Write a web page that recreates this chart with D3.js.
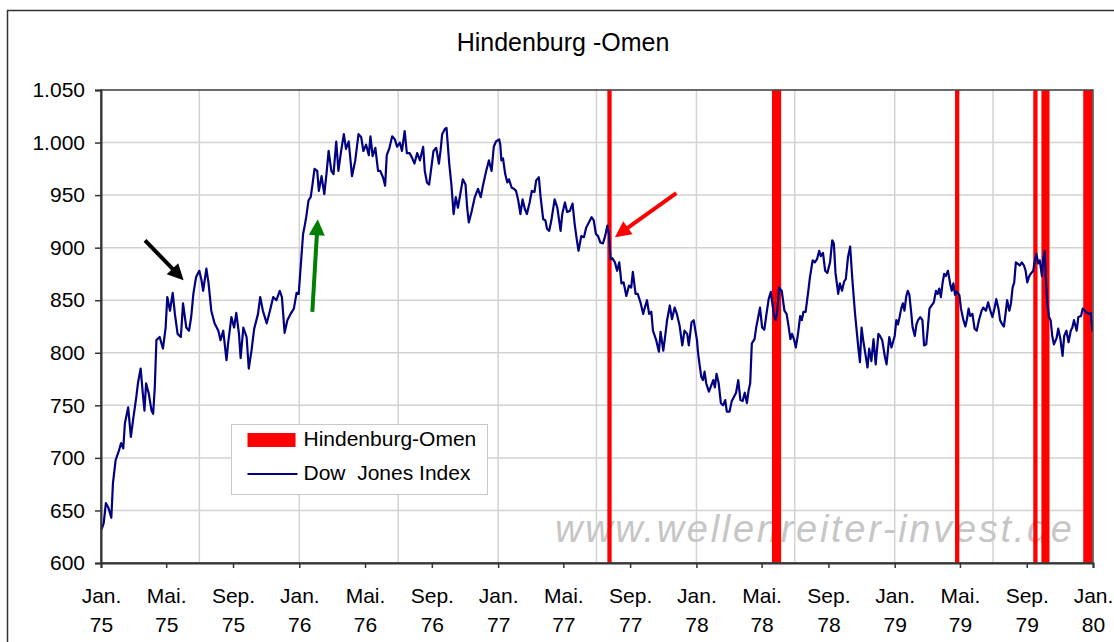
<!DOCTYPE html>
<html>
<head>
<meta charset="utf-8">
<script src="https://cdnjs.cloudflare.com/ajax/libs/d3/7.8.5/d3.min.js"></script>
<style>
  body { margin: 0; background: #fff; }
  text { font-family: 'Liberation Sans', Arial, sans-serif; }
</style>
</head>
<body>
<div id="viz"></div>
<script>
// Dow Jones Index
const dow1975 = [
  ['1975-01-02', 632], ['1975-01-06', 638], ['1975-01-10', 657], ['1975-01-15', 652], ['1975-01-20', 643],
  ['1975-01-23', 676], ['1975-01-28', 698], ['1975-02-03', 707], ['1975-02-07', 714], ['1975-02-11', 709],
  ['1975-02-14', 733], ['1975-02-20', 748], ['1975-02-25', 720], ['1975-03-01', 736], ['1975-03-07', 758],
  ['1975-03-10', 771], ['1975-03-15', 785], ['1975-03-19', 761], ['1975-03-22', 745], ['1975-03-25', 771],
  ['1975-03-30', 761], ['1975-04-04', 745], ['1975-04-07', 742], ['1975-04-10', 767], ['1975-04-13', 812],
  ['1975-04-19', 815], ['1975-04-25', 804], ['1975-04-30', 824], ['1975-05-03', 853], ['1975-05-08', 840],
  ['1975-05-13', 857], ['1975-05-17', 837], ['1975-05-22', 818], ['1975-05-28', 815], ['1975-06-01', 847],
  ['1975-06-07', 824], ['1975-06-12', 821], ['1975-06-16', 834], ['1975-06-20', 856], ['1975-06-25', 872],
  ['1975-07-01', 878], ['1975-07-05', 869], ['1975-07-08', 859], ['1975-07-14', 880], ['1975-07-18', 866],
  ['1975-07-23', 840], ['1975-07-29', 828], ['1975-08-05', 821], ['1975-08-09', 812], ['1975-08-14', 821],
  ['1975-08-20', 793], ['1975-08-23', 809], ['1975-08-29', 834], ['1975-09-03', 824], ['1975-09-07', 838],
  ['1975-09-12', 818], ['1975-09-15', 795], ['1975-09-20', 824], ['1975-09-26', 815], ['1975-09-30', 785],
  ['1975-10-05', 802], ['1975-10-10', 823], ['1975-10-17', 837], ['1975-10-21', 853], ['1975-10-26', 840],
  ['1975-11-02', 828], ['1975-11-08', 840], ['1975-11-14', 853], ['1975-11-20', 850], ['1975-11-26', 859],
  ['1975-11-30', 853], ['1975-12-05', 819], ['1975-12-10', 831], ['1975-12-16', 837], ['1975-12-22', 842],
  ['1975-12-27', 857], ['1975-12-31', 856]
];

const dow1976 = [
  ['1976-01-03', 878], ['1976-01-08', 913], ['1976-01-11', 921], ['1976-01-14', 930], ['1976-01-18', 945],
  ['1976-01-22', 948], ['1976-01-25', 959], ['1976-01-29', 975], ['1976-02-03', 973], ['1976-02-06', 954],
  ['1976-02-11', 968], ['1976-02-16', 951], ['1976-02-20', 970], ['1976-02-24', 992], ['1976-02-29', 973],
  ['1976-03-04', 970], ['1976-03-09', 1001], ['1976-03-13', 973], ['1976-03-18', 992], ['1976-03-23', 1008],
  ['1976-03-27', 994], ['1976-04-01', 1001], ['1976-04-07', 968], ['1976-04-13', 983], ['1976-04-19', 1008],
  ['1976-04-24', 1005], ['1976-04-28', 992], ['1976-05-03', 998], ['1976-05-08', 988], ['1976-05-11', 1006],
  ['1976-05-15', 987], ['1976-05-20', 995], ['1976-05-25', 973], ['1976-05-29', 973], ['1976-06-03', 967],
  ['1976-06-07', 959], ['1976-06-10', 988], ['1976-06-15', 995], ['1976-06-20', 1006], ['1976-06-25', 1003],
  ['1976-06-29', 996], ['1976-07-04', 1000], ['1976-07-08', 992], ['1976-07-13', 1011], ['1976-07-17', 990],
  ['1976-07-22', 990], ['1976-07-27', 985], ['1976-07-31', 980], ['1976-08-05', 990], ['1976-08-10', 983],
  ['1976-08-16', 996], ['1976-08-19', 973], ['1976-08-23', 962], ['1976-08-27', 960], ['1976-08-31', 976],
  ['1976-09-04', 992], ['1976-09-09', 995], ['1976-09-14', 980], ['1976-09-17', 992], ['1976-09-20', 1008],
  ['1976-09-25', 1013], ['1976-09-28', 1014], ['1976-10-03', 980], ['1976-10-07', 960], ['1976-10-11', 932],
  ['1976-10-15', 948], ['1976-10-19', 938], ['1976-10-24', 953], ['1976-10-28', 965], ['1976-11-02', 960],
  ['1976-11-05', 938], ['1976-11-08', 924], ['1976-11-13', 934], ['1976-11-19', 948], ['1976-11-25', 956],
  ['1976-11-30', 948], ['1976-12-04', 959], ['1976-12-10', 973], ['1976-12-15', 983], ['1976-12-20', 973],
  ['1976-12-24', 996], ['1976-12-28', 1001]
];

const dow1977 = [
  ['1977-01-03', 1003], ['1977-01-05', 998], ['1977-01-07', 983], ['1977-01-10', 985], ['1977-01-14', 970],
  ['1977-01-18', 962], ['1977-01-21', 965], ['1977-01-26', 957], ['1977-01-30', 956], ['1977-02-03', 954],
  ['1977-02-07', 945], ['1977-02-11', 932], ['1977-02-15', 946], ['1977-02-19', 937], ['1977-02-23', 932],
  ['1977-02-28', 943], ['1977-03-04', 954], ['1977-03-09', 953], ['1977-03-12', 964], ['1977-03-17', 967],
  ['1977-03-20', 949], ['1977-03-25', 927], ['1977-03-29', 926], ['1977-04-01', 918], ['1977-04-05', 916],
  ['1977-04-09', 926], ['1977-04-15', 946], ['1977-04-20', 938], ['1977-04-26', 916], ['1977-04-29', 932],
  ['1977-05-04', 943], ['1977-05-08', 934], ['1977-05-13', 935], ['1977-05-18', 942], ['1977-05-22', 922],
  ['1977-05-26', 907], ['1977-05-29', 897], ['1977-06-03', 911], ['1977-06-08', 910], ['1977-06-12', 919],
  ['1977-06-17', 924], ['1977-06-22', 929], ['1977-06-26', 926], ['1977-06-30', 913], ['1977-07-04', 911],
  ['1977-07-08', 905], ['1977-07-13', 904], ['1977-07-17', 911], ['1977-07-21', 921], ['1977-07-24', 913],
  ['1977-07-27', 889], ['1977-07-30', 890], ['1977-08-04', 886], ['1977-08-08', 878], ['1977-08-12', 886],
  ['1977-08-16', 866], ['1977-08-20', 867], ['1977-08-25', 854], ['1977-08-30', 864], ['1977-09-03', 862],
  ['1977-09-06', 877], ['1977-09-11', 856], ['1977-09-15', 856], ['1977-09-20', 848], ['1977-09-25', 837],
  ['1977-09-28', 843], ['1977-10-02', 850], ['1977-10-06', 837], ['1977-10-10', 839], ['1977-10-13', 821],
  ['1977-10-19', 812], ['1977-10-24', 801], ['1977-10-27', 820], ['1977-11-01', 802], ['1977-11-05', 818],
  ['1977-11-08', 831], ['1977-11-13', 845], ['1977-11-17', 832], ['1977-11-22', 843], ['1977-11-26', 837],
  ['1977-12-01', 826], ['1977-12-06', 807], ['1977-12-10', 821], ['1977-12-15', 818], ['1977-12-18', 807],
  ['1977-12-23', 829], ['1977-12-27', 831]
];

const dow1978 = [
  ['1978-01-02', 812], ['1978-01-04', 800], ['1978-01-07', 788], ['1978-01-10', 777], ['1978-01-13', 774],
  ['1978-01-16', 782], ['1978-01-19', 771], ['1978-01-24', 763], ['1978-01-27', 767], ['1978-02-01', 774],
  ['1978-02-04', 767], ['1978-02-07', 780], ['1978-02-11', 771], ['1978-02-15', 752], ['1978-02-19', 750],
  ['1978-02-23', 755], ['1978-02-26', 744], ['1978-03-03', 744], ['1978-03-07', 754], ['1978-03-11', 758],
  ['1978-03-15', 762], ['1978-03-19', 774], ['1978-03-23', 755], ['1978-03-27', 754], ['1978-03-31', 762],
  ['1978-04-04', 752], ['1978-04-07', 764], ['1978-04-10', 771], ['1978-04-13', 809], ['1978-04-18', 813],
  ['1978-04-21', 824], ['1978-04-24', 832], ['1978-04-28', 843], ['1978-05-02', 824], ['1978-05-06', 822],
  ['1978-05-10', 837], ['1978-05-14', 851], ['1978-05-18', 858], ['1978-05-21', 846], ['1978-05-24', 835],
  ['1978-05-27', 831], ['1978-05-30', 840], ['1978-06-02', 862], ['1978-06-07', 859], ['1978-06-12', 840],
  ['1978-06-16', 837], ['1978-06-20', 824], ['1978-06-23', 813], ['1978-06-26', 818], ['1978-06-30', 812],
  ['1978-07-03', 805], ['1978-07-07', 818], ['1978-07-11', 835], ['1978-07-14', 831], ['1978-07-17', 839],
  ['1978-07-21', 839], ['1978-07-26', 859], ['1978-07-29', 872], ['1978-08-03', 888], ['1978-08-07', 886],
  ['1978-08-11', 889], ['1978-08-15', 897], ['1978-08-18', 892], ['1978-08-22', 895], ['1978-08-26', 878],
  ['1978-08-30', 876], ['1978-09-04', 886], ['1978-09-08', 907], ['1978-09-11', 904], ['1978-09-14', 876],
  ['1978-09-19', 856], ['1978-09-22', 866], ['1978-09-26', 859], ['1978-09-30', 868], ['1978-10-03', 870],
  ['1978-10-07', 891], ['1978-10-11', 901], ['1978-10-15', 870], ['1978-10-20', 837], ['1978-10-23', 821],
  ['1978-10-26', 805], ['1978-10-29', 791], ['1978-11-01', 824], ['1978-11-04', 812], ['1978-11-08', 799],
  ['1978-11-12', 786], ['1978-11-15', 804], ['1978-11-19', 792], ['1978-11-23', 813], ['1978-11-27', 789],
  ['1978-12-02', 818], ['1978-12-05', 816], ['1978-12-09', 812], ['1978-12-14', 796], ['1978-12-17', 789],
  ['1978-12-22', 815], ['1978-12-26', 805]
];

const dow1979 = [
  ['1979-01-01', 816], ['1979-01-04', 831], ['1979-01-07', 827], ['1979-01-10', 834], ['1979-01-13', 842],
  ['1979-01-16', 847], ['1979-01-19', 840], ['1979-01-22', 853], ['1979-01-25', 859], ['1979-01-28', 855],
  ['1979-02-01', 835], ['1979-02-03', 824], ['1979-02-07', 816], ['1979-02-10', 827], ['1979-02-13', 831],
  ['1979-02-17', 834], ['1979-02-21', 831], ['1979-02-24', 807], ['1979-02-28', 808], ['1979-03-03', 824],
  ['1979-03-06', 842], ['1979-03-10', 845], ['1979-03-14', 848], ['1979-03-18', 859], ['1979-03-21', 856],
  ['1979-03-24', 861], ['1979-03-27', 853], ['1979-03-30', 866], ['1979-04-02', 875], ['1979-04-05', 873],
  ['1979-04-09', 878], ['1979-04-13', 866], ['1979-04-16', 859], ['1979-04-19', 866], ['1979-04-22', 855],
  ['1979-04-25', 858], ['1979-04-30', 855], ['1979-05-03', 842], ['1979-05-07', 832], ['1979-05-11', 825],
  ['1979-05-14', 832], ['1979-05-17', 842], ['1979-05-20', 835], ['1979-05-24', 837], ['1979-05-28', 823],
  ['1979-06-01', 821], ['1979-06-05', 831], ['1979-06-10', 840], ['1979-06-13', 843], ['1979-06-18', 840],
  ['1979-06-22', 848], ['1979-06-26', 840], ['1979-06-30', 834], ['1979-07-04', 843], ['1979-07-07', 851],
  ['1979-07-11', 842], ['1979-07-14', 831], ['1979-07-18', 827], ['1979-07-21', 825], ['1979-07-24', 837],
  ['1979-07-27', 850], ['1979-07-31', 840], ['1979-08-03', 847], ['1979-08-06', 862], ['1979-08-09', 867],
  ['1979-08-12', 886], ['1979-08-15', 885], ['1979-08-19', 883], ['1979-08-23', 886], ['1979-08-27', 883],
  ['1979-08-30', 878], ['1979-09-02', 867], ['1979-09-05', 872], ['1979-09-08', 875], ['1979-09-13', 878],
  ['1979-09-16', 888], ['1979-09-19', 894], ['1979-09-22', 885], ['1979-09-25', 888], ['1979-09-29', 873],
  ['1979-10-01', 888], ['1979-10-04', 897], ['1979-10-06', 872], ['1979-10-09', 847], ['1979-10-12', 834],
  ['1979-10-15', 831], ['1979-10-18', 816], ['1979-10-21', 808], ['1979-10-26', 814], ['1979-10-29', 823],
  ['1979-11-02', 813], ['1979-11-06', 797], ['1979-11-09', 816], ['1979-11-13', 821], ['1979-11-17', 810],
  ['1979-11-21', 821], ['1979-11-24', 824], ['1979-11-27', 831], ['1979-12-02', 821], ['1979-12-05', 834],
  ['1979-12-10', 835], ['1979-12-13', 842], ['1979-12-17', 840], ['1979-12-21', 838], ['1979-12-25', 837],
  ['1979-12-28', 838], ['1979-12-31', 820]
];

// days with a Hindenburg-Omen signal
const omenDates = [
  '1977-07-25',
  '1978-05-24', '1978-05-27', '1978-05-30', '1978-06-02',
  '1979-04-26',
  '1979-09-17',
  '1979-10-02', '1979-10-05', '1979-10-09',
  '1979-12-18', '1979-12-21', '1979-12-24', '1979-12-27'
];

const yTicks = [600, 650, 700, 750, 800, 850, 900, 950, 1000, 1050];
const monthLabels = ['Jan.', 'Mai.', 'Sep.'];
const legendLabels = ['Hindenburg-Omen', 'Dow  Jones Index'];

// annotation arrows: [date, value] -> [date, value]
const arrowsData = [
  { from: ['1975-03-23', 907], to: ['1975-06-02', 869], color: '#000000' },
  { from: ['1976-01-25', 839], to: ['1976-02-04', 927], color: '#008000' },
  { from: ['1977-11-25', 952], to: ['1977-08-04', 910], color: '#ff0000' }
];

(() => {
  let margin = { top: 90, right: 21, bottom: 79, left: 101 },
    width = 1114 - margin.left - margin.right,
    height = 642 - margin.top - margin.bottom;

  let parse = d3.timeParse('%Y-%m-%d');
  let de = d3.formatLocale({ decimal: ',', thousands: '.', grouping: [3], currency: ['', ' €'] });

  let root = d3.select('#viz')
    .append('svg')
    .attr('width', 1114)
    .attr('height', 642);

  // chart frame
  root.append('rect')
    .attr('x', 7.5)
    .attr('y', 10.5)
    .attr('width', 1130)
    .attr('height', 660)
    .style('fill', '#fff')
    .style('stroke', '#333')
    .style('stroke-width', 1.5);

  root.append('text')
    .attr('x', 563)
    .attr('y', 51)
    .attr('text-anchor', 'middle')
    .style('font-size', '25px')
    .style('fill', '#000')
    .text('Hindenburg -Omen');

  let svg = root.append('g')
    .attr('transform', `translate(${margin.left}, ${margin.top})`);

  let start = parse('1975-01-01'),
    end = parse('1980-01-01');

  let x = d3.scaleTime()
    .domain([start, end])
    .range([0, width]);

  let y = d3.scaleLinear()
    .domain([600, 1050])
    .range([height, 0]);

  let dow = [...dow1975, ...dow1976, ...dow1977, ...dow1978, ...dow1979]
    .map(d => ({ date: parse(d[0]), value: d[1] }));

  svg.append('defs')
    .append('clipPath')
    .attr('id', 'plot-clip')
    .append('rect')
    .attr('width', width)
    .attr('height', height);

  // gridlines
  svg.append('g')
    .selectAll('line')
    .data(yTicks)
    .join('line')
    .attr('x1', 0)
    .attr('x2', width)
    .attr('y1', d => y(d))
    .attr('y2', d => y(d))
    .style('stroke', '#d2d2d2')
    .style('stroke-width', 1.5);

  svg.append('g')
    .selectAll('line')
    .data(d3.timeMonth.range(start, end, 6))
    .join('line')
    .attr('x1', d => x(d))
    .attr('x2', d => x(d))
    .attr('y1', 0)
    .attr('y2', height)
    .style('stroke', '#d2d2d2')
    .style('stroke-width', 1.5);

  // watermark
  svg.append('text')
    .attr('x', 454)
    .attr('y', 452)
    .attr('textLength', 517)
    .attr('lengthAdjust', 'spacing')
    .style('font-size', '38px')
    .style('font-style', 'italic')
    .style('fill', '#c6c6c6')
    .text('www.wellenreiter-invest.de');

  let plot = svg.append('g')
    .attr('clip-path', 'url(#plot-clip)');

  plot.selectAll('.omen')
    .data(omenDates.map(parse))
    .join('rect')
    .attr('class', 'omen')
    .attr('x', d => x(d) - 2.15)
    .attr('y', 0)
    .attr('width', 4.3)
    .attr('height', height)
    .style('fill', '#ff0000');

  let line = d3.line()
    .x(d => x(d.date))
    .y(d => y(d.value));

  plot.append('path')
    .datum(dow)
    .attr('d', line)
    .style('fill', 'none')
    .style('stroke', '#000080')
    .style('stroke-width', 2.2)
    .style('stroke-linejoin', 'round');

  // plot border (top / right)
  svg.append('rect')
    .attr('width', width)
    .attr('height', height)
    .style('fill', 'none')
    .style('stroke', '#444')
    .style('stroke-width', 1.5);

  // axes
  let yAxis = svg.append('g')
    .call(d3.axisLeft(y)
      .tickValues(yTicks)
      .tickSize(6)
      .tickPadding(10)
      .tickFormat(de.format(',')));

  let xAxis = svg.append('g')
    .attr('transform', `translate(0,${height})`)
    .call(d3.axisBottom(x)
      .tickValues(d3.timeMonth.range(start, d3.timeDay.offset(end, 1), 4))
      .tickSize(5)
      .tickFormat(''));

  [yAxis, xAxis].forEach(a => {
    a.select('.domain').style('stroke', '#333').style('stroke-width', 2);
    a.selectAll('.tick line').style('stroke', '#333').style('stroke-width', 1.5);
    a.selectAll('text').style('font-size', '21px').style('font-family', "'Liberation Sans', Arial, sans-serif").style('fill', '#000');
  });

  let yearFmt = d3.timeFormat('%y');
  let lbl = xAxis.selectAll('.tick text')
    .text(null)
    .attr('y', 0)
    .attr('dy', null);

  lbl.append('tspan')
    .attr('x', 0)
    .attr('y', 40)
    .text(d => monthLabels[d.getMonth() / 4]);

  lbl.append('tspan')
    .attr('x', 0)
    .attr('y', 69)
    .text(d => yearFmt(d));

  // arrows
  arrowsData.forEach(a => {
    let p0 = [x(parse(a.from[0])), y(a.from[1])],
      p1 = [x(parse(a.to[0])), y(a.to[1])];
    let dx = p1[0] - p0[0], dy = p1[1] - p0[1],
      len = Math.sqrt(dx * dx + dy * dy),
      ux = dx / len, uy = dy / len,
      head = 16, half = 8;
    let base = [p1[0] - ux * head, p1[1] - uy * head];

    svg.append('line')
      .attr('x1', p0[0])
      .attr('y1', p0[1])
      .attr('x2', base[0] + ux * 2)
      .attr('y2', base[1] + uy * 2)
      .style('stroke', a.color)
      .style('stroke-width', 4);

    svg.append('path')
      .attr('d', `M${p1[0]},${p1[1]}L${base[0] - uy * half},${base[1] + ux * half}L${base[0] + uy * half},${base[1] - ux * half}Z`)
      .style('fill', a.color);
  });

  // legend
  let legend = root.append('g')
    .attr('transform', 'translate(231.5, 424.5)');

  legend.append('rect')
    .attr('width', 256)
    .attr('height', 70)
    .style('fill', '#fff')
    .style('stroke', '#c8c8c8')
    .style('stroke-width', 1);

  legend.append('rect')
    .attr('x', 16)
    .attr('y', 8.5)
    .attr('width', 48)
    .attr('height', 14)
    .style('fill', '#ff0000');

  legend.append('line')
    .attr('x1', 16)
    .attr('x2', 66)
    .attr('y1', 49.5)
    .attr('y2', 49.5)
    .style('stroke', '#000080')
    .style('stroke-width', 2);

  legend.selectAll('.leg-text')
    .data(legendLabels)
    .join('text')
    .attr('class', 'leg-text')
    .attr('x', 72)
    .attr('y', (d, i) => 21.5 + i * 34)
    .style('font-size', '21px')
    .style('white-space', 'pre')
    .style('fill', '#000')
    .text(d => d);
})();
</script>
</body>
</html>
